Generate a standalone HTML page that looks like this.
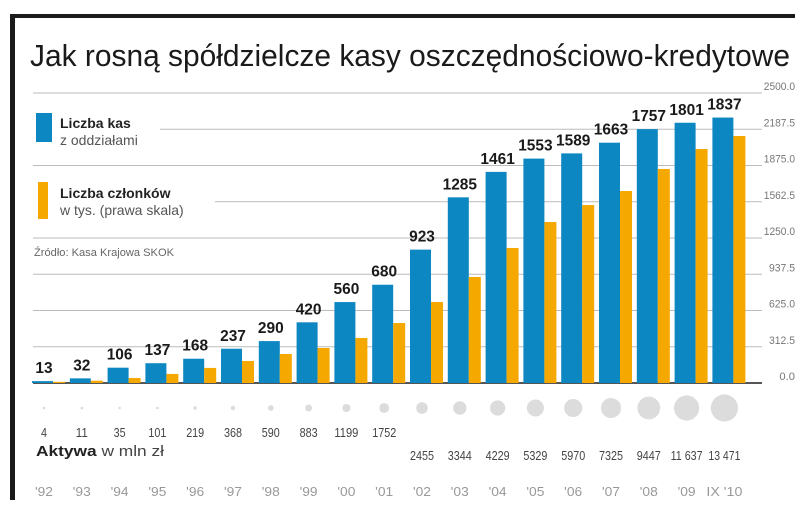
<!DOCTYPE html>
<html><head><meta charset="utf-8"><style>
body{margin:0;background:#fff;}
svg text{font-family:"Liberation Sans",sans-serif;}
</style></head><body>
<svg width="805" height="509" viewBox="0 0 805 509" xmlns="http://www.w3.org/2000/svg">
<rect x="10" y="14" width="785" height="4" fill="#1a1a1a"/>
<rect x="10" y="14" width="5" height="486" fill="#1a1a1a"/>
<text x="30" y="66" font-size="31" fill="#1a1a1a" textLength="760" lengthAdjust="spacingAndGlyphs">Jak rosną spółdzielcze kasy oszczędnościowo-kredytowe</text>
<g id="grid"></g>
<g id="bars"></g>
<g id="legend">
<rect x="30" y="105" width="130" height="46" fill="#fff"/>
<rect x="30" y="175" width="185" height="50" fill="#fff"/>
<rect x="36" y="113" width="16" height="29" fill="#0d87c2"/>
<text x="60" y="128" font-size="14" font-weight="bold" fill="#222">Liczba kas</text>
<text x="60" y="145" font-size="14" fill="#555">z oddziałami</text>
<rect x="38" y="182" width="10" height="37" fill="#f5a800"/>
<text x="60" y="198" font-size="14" font-weight="bold" fill="#222">Liczba członków</text>
<text x="60" y="215" font-size="14" fill="#555">w tys. (prawa skala)</text>
<rect x="30" y="243" width="170" height="16" fill="#fff"/>
<text x="34" y="256" font-size="11" fill="#666" textLength="140" lengthAdjust="spacingAndGlyphs">Źródło: Kasa Krajowa SKOK</text>
</g>
<g id="assets"></g>
<text x="36" y="456" font-size="15" fill="#222" textLength="128" lengthAdjust="spacingAndGlyphs"><tspan font-weight="bold">Aktywa</tspan><tspan fill="#444"> w mln zł</tspan></text>
<g id="years"></g>
</svg>
<script>
const years=["'92","'93","'94","'95","'96","'97","'98","'99","'00","'01","'02","'03","'04","'05","'06","'07","'08","'09","IX '10"];
const kasy=[13,32,106,137,168,237,290,420,560,680,923,1285,1461,1553,1589,1663,1757,1801,1837];
const czlonkowie=[10,20,43,78,130,190,250,302,388,517,698,914,1164,1388,1534,1655,1845,2017,2129];
const aktywa=[4,11,35,101,219,368,590,883,1199,1752,2455,3344,4229,5329,5970,7325,9447,11637,13471];
const aktywaLabels=["4","11","35","101","219","368","590","883","1199","1752","2455","3344","4229","5329","5970","7325","9447","11 637","13 471"];
const rightTicks=[0,312.5,625,937.5,1250,1562.5,1875,2187.5,2500];
const NS="http://www.w3.org/2000/svg";
const y0=383, yTop=93;
const yR=v=>y0-(v/2500)*(y0-yTop);
const yL=v=>y0-v*0.1445;
const xC=i=>32+i*37.8;
function mk(tag,attrs,parent){const e=document.createElementNS(NS,tag);for(const k in attrs)e.setAttribute(k,attrs[k]);parent.appendChild(e);return e;}
const grid=document.getElementById('grid');
rightTicks.forEach((t,i)=>{
  const l=mk('line',{x1:33,x2:762,y1:yR(t),y2:yR(t),stroke:i===0?'#555':'#bbb','stroke-width':i===0?2:1},grid);
  
  
  const s=t.toFixed(1);
  const tx=mk('text',{x:795,y:yR(t)-3,'font-size':11,fill:'#777','text-anchor':'end',textLength:s.length*5.2,lengthAdjust:'spacingAndGlyphs'},grid);
  tx.textContent=s;
  
  
});
const bars=document.getElementById('bars');
years.forEach((y,i)=>{
  const x=xC(i);
  const b=mk('rect',{x:x,y:yL(kasy[i]),width:21,height:y0-yL(kasy[i]),fill:'#0d87c2'},bars);
  
  
  const o=mk('rect',{x:x+21,y:yR(czlonkowie[i]),width:12,height:y0-yR(czlonkowie[i]),fill:'#f5a800'},bars);
  
  
  const s=String(kasy[i]);
  const t=mk('text',{x:x+12,y:yL(kasy[i])-8,'font-size':16,'font-weight':'bold',fill:'#1a1a1a','text-anchor':'middle',textLength:s.length*8.6,lengthAdjust:'spacingAndGlyphs'},bars);
  t.textContent=s;
  
  
});
const as=document.getElementById('assets');
aktywa.forEach((a,i)=>{
  const cx=xC(i)+12;
  const c=mk('circle',{cx:cx,cy:408,r:Math.max(1.3,Math.sqrt(a)*0.117),fill:'#dcdcdc'},as);
  
  
  const s=aktywaLabels[i];
  const t=mk('text',{x:cx,y:i<10?437:460,'font-size':13,fill:'#444','text-anchor':'middle',textLength:s.replace(' ','').length*6+(s.includes(' ')?2:0),lengthAdjust:'spacingAndGlyphs'},as);
  t.textContent=s;
  
  
});
const yr=document.getElementById('years');
years.forEach((y,i)=>{
  const t=mk('text',{x:xC(i)+12,y:496,'font-size':13,fill:'#999','text-anchor':'middle',textLength:y.length*6,lengthAdjust:'spacingAndGlyphs'},yr);
  t.textContent=y;
  
  
});
</script>
</body></html>
